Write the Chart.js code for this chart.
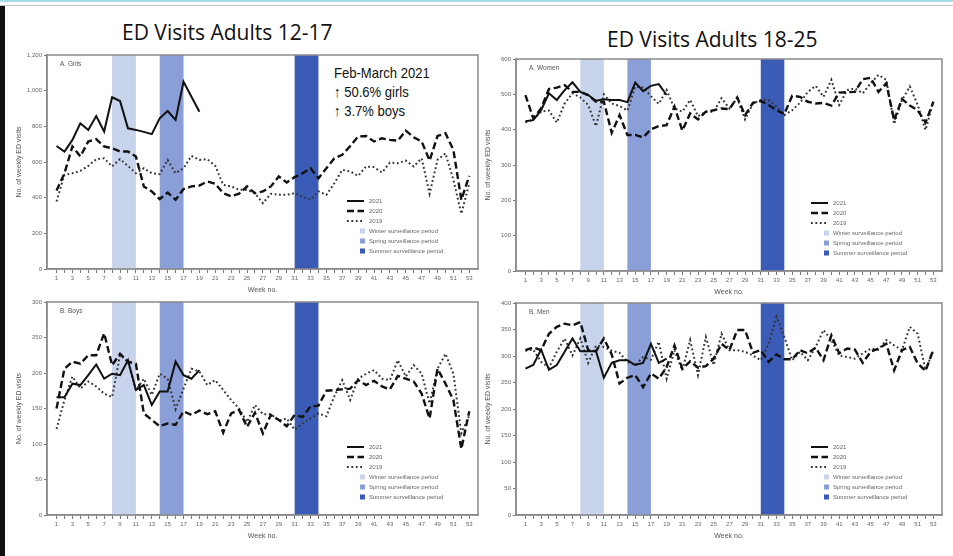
<!DOCTYPE html>
<html>
<head>
<meta charset="utf-8">
<script src="https://cdn.jsdelivr.net/npm/chart.js@4/dist/chart.umd.min.js"></script>
<style>
  html, body { margin: 0; padding: 0; background: #fff; }
  body { width: 953px; height: 556px; position: relative; overflow: hidden; font-family: "Liberation Sans", Arial, sans-serif; }
  .abs { position: absolute; }
  #topline { left: 0; top: 0; width: 953px; height: 2px; background: #a3dbe9; }
  #greyline { left: 0; top: 5px; width: 953px; height: 1px; background: #c2c2c2; }
  #leftbar { left: 0; top: 6px; width: 5px; height: 550px; background: #111; }
  .title { font-family: "Open Sans", "Liberation Sans", sans-serif; font-size: 21px; color: #111; white-space: nowrap; }
  #note { left: 334px; top: 63px; font-family: "Liberation Sans", sans-serif; font-size: 15px; line-height: 19px; color: #111; white-space: nowrap; transform: scaleX(0.87); transform-origin: 0 0; }
  canvas { position: absolute; }
</style>
</head>
<body>
<div id="topline" class="abs"></div>
<div id="greyline" class="abs"></div>
<div id="leftbar" class="abs"></div>
<div class="abs title" style="left:122px; top:18px;">ED Visits Adults 12-17</div>
<div class="abs title" style="left:607px; top:25px;">ED Visits Adults 18-25</div>
<div id="note" class="abs">Feb-March 2021<br>↑ 50.6% girls<br>↑ 3.7% boys</div>

<canvas id="cGirls"></canvas>
<canvas id="cBoys"></canvas>
<canvas id="cWomen"></canvas>
<canvas id="cMen"></canvas>

<script>
// Week numbers on the x axis
const weeks = Array.from({ length: 53 }, (_, i) => i + 1);
const seriesLabels = ['2021', '2020', '2019'];

// Surveillance periods (week ranges)
const bandLabels = ['Winter surveillance period', 'Spring surveillance period', 'Summer surveillance period'];
const bandStart = [8, 14, 31];
const bandEnd = [11, 17, 34];
const bandColors = ['#c8d3ec', '#8a9ed8', '#3b5cb6'];

// Girls aged 12-17
const girls2021 = [690, 659, 724, 817, 780, 858, 771, 963, 942, 789, 780, 769, 756, 845, 886, 836, 1050, 966, 882];
const girls2020 = [440, 537, 687, 631, 715, 728, 687, 677, 659, 659, 631, 463, 435, 392, 429, 388, 448, 463, 468, 491,
  478, 425, 407, 422, 463, 425, 435, 463, 519, 485, 515, 537, 565, 509, 565, 621, 640, 690, 743, 746,
  715, 733, 724, 720, 776, 739, 715, 608, 746, 761, 668, 388, 522];
const girls2019 = [379, 528, 537, 550, 578, 616, 621, 575, 616, 578, 537, 565, 537, 532, 612, 537, 565, 634, 612, 616,
  578, 472, 463, 444, 444, 425, 369, 422, 416, 416, 425, 407, 388, 435, 416, 481, 556, 547, 522, 575,
  571, 541, 597, 593, 608, 575, 621, 422, 612, 649, 500, 310, 480];

// Boys aged 12-17
const boys2021 = [166, 166, 185, 183, 197, 212, 192, 199, 197, 218, 176, 183, 155, 174, 174, 216, 197, 192, 204];
const boys2020 = [150, 206, 216, 213, 225, 225, 256, 211, 227, 216, 213, 143, 134, 125, 129, 127, 146, 141, 147, 142,
  146, 116, 143, 148, 124, 144, 115, 141, 134, 125, 141, 138, 153, 154, 175, 176, 177, 178, 190, 183,
  189, 181, 177, 196, 192, 188, 171, 136, 206, 185, 162, 93, 146];
const boys2019 = [121, 162, 195, 178, 188, 181, 171, 166, 225, 216, 176, 192, 169, 199, 192, 149, 178, 206, 202, 183,
  190, 176, 162, 150, 131, 155, 142, 142, 133, 136, 120, 129, 136, 143, 139, 167, 190, 162, 192, 199,
  204, 192, 190, 218, 195, 211, 199, 157, 206, 227, 199, 115, 140];

// Women aged 18-25
const women2021 = [424, 427, 455, 503, 484, 512, 534, 507, 498, 482, 486, 484, 484, 478, 533, 509, 524, 529, 498];
const women2020 = [498, 432, 460, 515, 519, 526, 507, 507, 498, 479, 479, 391, 441, 385, 385, 378, 401, 410, 413, 465,
  397, 446, 429, 451, 455, 460, 458, 491, 441, 476, 481, 470, 455, 444, 496, 493, 479, 474, 476, 468,
  505, 506, 507, 543, 547, 507, 531, 427, 487, 468, 455, 420, 479];
const women2019 = [420, 429, 451, 454, 420, 474, 503, 491, 470, 410, 500, 474, 467, 454, 522, 519, 495, 473, 512, 460,
  451, 484, 438, 451, 451, 489, 460, 489, 429, 474, 484, 484, 465, 441, 455, 476, 507, 524, 493, 541,
  470, 512, 517, 503, 531, 555, 541, 416, 484, 522, 470, 399, 479];

// Men aged 18-25
const men2021 = [276, 283, 312, 274, 283, 308, 333, 309, 309, 309, 259, 287, 292, 292, 283, 287, 323, 287, 295];
const men2020 = [311, 316, 311, 342, 355, 361, 358, 364, 311, 309, 333, 303, 248, 259, 264, 241, 267, 257, 279, 320,
  276, 290, 278, 281, 295, 323, 311, 349, 349, 306, 311, 289, 303, 294, 294, 311, 305, 316, 292, 339,
  305, 314, 312, 287, 308, 314, 323, 273, 311, 317, 286, 272, 312];
const men2019 = [310, 312, 289, 278, 308, 333, 301, 333, 287, 320, 317, 310, 306, 289, 283, 298, 293, 327, 257, 311,
  273, 330, 264, 336, 283, 342, 311, 311, 308, 301, 292, 323, 374, 336, 292, 308, 292, 317, 349, 330,
  301, 298, 295, 305, 314, 312, 330, 320, 311, 355, 342, 273, 311];

const AXIS_W = 44, PAD_T = 6, PAD_R = 8, XAXIS_H = 27;
const tickFont = { family: '"Liberation Sans", Arial, sans-serif', size: 6 };
const smallColor = '#666';

// Bands, plot frame, panel tag and in-plot legend
const panelDecor = {
  id: 'panelDecor',
  beforeDatasetsDraw(chart) {
    const { ctx, chartArea: a, scales: { x } } = chart;
    ctx.save();
    bandStart.forEach((s, i) => {
      const x0 = x.getPixelForValue(s), x1 = x.getPixelForValue(bandEnd[i]);
      ctx.fillStyle = bandColors[i];
      ctx.fillRect(x0, a.top, x1 - x0, a.bottom - a.top);
    });
    ctx.restore();
  },
  afterDraw(chart, args, opts) {
    const { ctx, chartArea: a } = chart;
    ctx.save();
    ctx.strokeStyle = '#8a8a8a';
    ctx.lineWidth = 1.5;
    ctx.strokeRect(a.left, a.top, a.right - a.left, a.bottom - a.top);

    ctx.fillStyle = '#555';
    ctx.font = '6.5px "Liberation Sans", Arial, sans-serif';
    ctx.textBaseline = 'middle';
    ctx.fillText(opts.tag, a.left + 13, a.top + 9);

    // legend
    const tx = a.right - 109, y0 = a.bottom - 68, dy = 10;
    ctx.font = '6px "Liberation Sans", Arial, sans-serif';
    chart.data.datasets.forEach((ds, i) => {
      const y = y0 + i * dy;
      ctx.beginPath();
      ctx.strokeStyle = ds.borderColor;
      ctx.lineWidth = ds.borderWidth;
      ctx.setLineDash(ds.borderDash || []);
      ctx.moveTo(tx - 22, y);
      ctx.lineTo(tx - 5, y);
      ctx.stroke();
      ctx.setLineDash([]);
      ctx.fillStyle = '#666';
      ctx.fillText(ds.label, tx, y);
    });
    bandLabels.forEach((lab, i) => {
      const y = y0 + (i + 3) * dy;
      ctx.fillStyle = bandColors[i];
      ctx.fillRect(tx - 9, y - 2.5, 5, 5);
      ctx.fillStyle = '#666';
      ctx.fillText(lab, tx, y);
    });
    ctx.restore();
  }
};

function makePanel(id, area, yMax, yStep, tag, s2021, s2020, s2019) {
  const cv = document.getElementById(id);
  const w = (area.R - area.L) + AXIS_W + PAD_R;
  const h = (area.B - area.T) + PAD_T + XAXIS_H;
  cv.width = w; cv.height = h;
  cv.style.left = (area.L - AXIS_W) + 'px';
  cv.style.top = (area.T - PAD_T) + 'px';
  cv.style.width = w + 'px'; cv.style.height = h + 'px';

  const pts = arr => arr.map((v, i) => ({ x: weeks[i], y: v }));

  new Chart(cv, {
    type: 'line',
    data: {
      datasets: [
        { label: seriesLabels[0], data: pts(s2021), borderColor: '#111', borderWidth: 2, borderDash: [] },
        { label: seriesLabels[1], data: pts(s2020), borderColor: '#111', borderWidth: 2.4, borderDash: [7, 3.5] },
        { label: seriesLabels[2], data: pts(s2019), borderColor: '#333', borderWidth: 2, borderDash: [1.8, 2.6] }
      ]
    },
    options: {
      responsive: false,
      devicePixelRatio: 1,
      animation: false,
      layout: { padding: { top: PAD_T, right: PAD_R, left: 0, bottom: 0 } },
      elements: { point: { radius: 0 }, line: { tension: 0, borderCapStyle: 'butt' } },
      plugins: { legend: { display: false }, tooltip: { enabled: false }, panelDecor: { tag } },
      scales: {
        x: {
          type: 'linear',
          min: -0.2, max: 54.1,
          afterBuildTicks: s => { s.ticks = weeks.map(v => ({ value: v })); },
          afterFit: s => { s.height = XAXIS_H; },
          ticks: {
            autoSkip: false, maxRotation: 0, includeBounds: false,
            font: tickFont, color: smallColor, padding: 2,
            callback: v => (v % 2 === 1 ? String(v) : '')
          },
          grid: { drawOnChartArea: false, drawTicks: true, tickLength: 4, color: '#777', tickWidth: 1 },
          border: { color: '#8a8a8a', width: 1.5 },
          title: { display: true, text: 'Week no.', font: { family: '"Liberation Sans", Arial, sans-serif', size: 7 }, color: '#555', padding: { top: 0, bottom: 2 } }
        },
        y: {
          min: 0, max: yMax,
          afterFit: s => { s.width = AXIS_W; },
          ticks: { stepSize: yStep, font: tickFont, color: smallColor, padding: 2 },
          grid: { drawOnChartArea: false, drawTicks: true, tickLength: 3, color: '#777' },
          border: { color: '#8a8a8a', width: 1.5 },
          title: { display: true, text: 'No. of weekly ED visits', font: { family: '"Liberation Sans", Arial, sans-serif', size: 7 }, color: '#555', padding: { top: 12, bottom: 0 } }
        }
      }
    },
    plugins: [panelDecor]
  });
}

makePanel('cGirls', { L: 47, T: 55, R: 478, B: 269 }, 1200, 200, 'A. Girls', girls2021, girls2020, girls2019);
makePanel('cBoys', { L: 47, T: 302, R: 478, B: 515 }, 300, 50, 'B. Boys', boys2021, boys2020, boys2019);
makePanel('cWomen', { L: 516, T: 59, R: 942, B: 271 }, 600, 100, 'A. Women', women2021, women2020, women2019);
makePanel('cMen', { L: 516, T: 303, R: 942, B: 515 }, 400, 50, 'B. Men', men2021, men2020, men2019);
</script>
</body>
</html>
